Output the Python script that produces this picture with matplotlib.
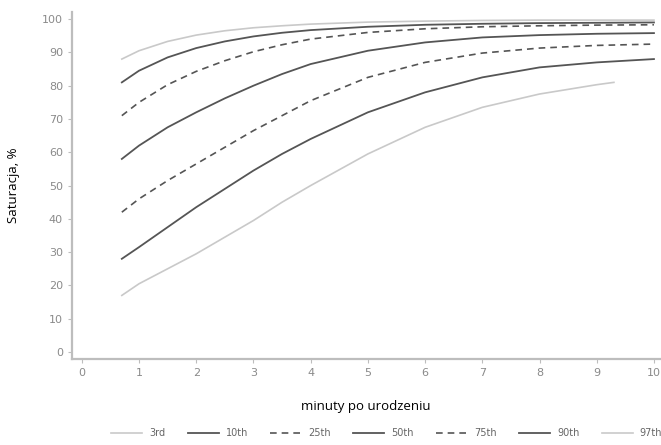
import matplotlib
matplotlib.use("Agg")
import matplotlib.pyplot as plt

# minutes after birth
minutes = [0.7, 1, 1.5, 2, 2.5, 3, 3.5, 4, 5, 6, 7, 8, 9, 10]
minutes_p3 = [0.7, 1, 1.5, 2, 2.5, 3, 3.5, 4, 5, 6, 7, 8, 9, 9.3]

# saturation percentiles, %
p3 = [17, 20.5, 25, 29.5, 34.5, 39.5, 45, 50, 59.5, 67.5, 73.5, 77.5, 80.3, 81]
p10 = [28, 31.5, 37.5, 43.5, 49, 54.5, 59.5, 64, 72, 78, 82.5, 85.5, 87, 88]
p25 = [42, 46, 51.5, 56.5, 61.5, 66.5, 71, 75.5, 82.5, 87, 89.8, 91.3, 92.1, 92.5]
p50 = [58, 62, 67.5, 72, 76.2, 80, 83.5, 86.5, 90.5, 93, 94.5, 95.2, 95.6, 95.8]
p75 = [71, 75, 80.3, 84.3, 87.5, 90.2, 92.3, 94, 96, 97.1, 97.7, 98, 98.2, 98.3]
p90 = [81, 84.5, 88.5, 91.3, 93.3, 94.8, 95.9, 96.7, 97.7, 98.3, 98.6, 98.8, 98.9, 99]
p97 = [88, 90.5, 93.3, 95.2, 96.5, 97.4, 98, 98.5, 99.1, 99.4, 99.6, 99.7, 99.7, 99.7]

labels = ["3rd", "10th", "25th", "50th", "75th", "90th", "97th"]

light = "#c9c9c9"
dark = "#555555"

fig = plt.figure(figsize=(6.61, 4.45), dpi=100)
ax = fig.add_axes([0.109, 0.194, 0.889, 0.778])

ax.plot(minutes_p3, p3, color=light, lw=1.2, label=labels[0])
ax.plot(minutes, p10, color=dark, lw=1.3, label=labels[1])
ax.plot(minutes, p25, color=dark, lw=1.2, ls=(0, (4, 3)), label=labels[2])
ax.plot(minutes, p50, color=dark, lw=1.3, label=labels[3])
ax.plot(minutes, p75, color=dark, lw=1.2, ls=(0, (4, 3)), label=labels[4])
ax.plot(minutes, p90, color=dark, lw=1.3, label=labels[5])
ax.plot(minutes, p97, color=light, lw=1.2, label=labels[6])

ax.set_xlim(-0.17, 10.1)
ax.set_ylim(-2, 102)
ax.set_xticks(range(0, 11))
ax.set_yticks(range(0, 101, 10))

for s in ["top", "right"]:
    ax.spines[s].set_visible(False)
for s in ["left", "bottom"]:
    ax.spines[s].set_color("#bdbdbd")
    ax.spines[s].set_linewidth(1.6)
ax.tick_params(colors="#bdbdbd", labelcolor="#8a8a8a", labelsize=8, length=3)

ax.set_xlabel("minuty po urodzeniu", fontsize=9.5, labelpad=16, family="Open Sans")
ax.set_ylabel("Saturacja, %", fontsize=9.5, labelpad=16, family="Open Sans")

fig.legend(loc="lower center", bbox_to_anchor=(0.585, -0.005), ncol=7, frameon=False,
           fontsize=7, handlelength=3.2, columnspacing=2.3, handletextpad=0.7,
           labelcolor="#666666")

fig.savefig("out.png", dpi=100)
